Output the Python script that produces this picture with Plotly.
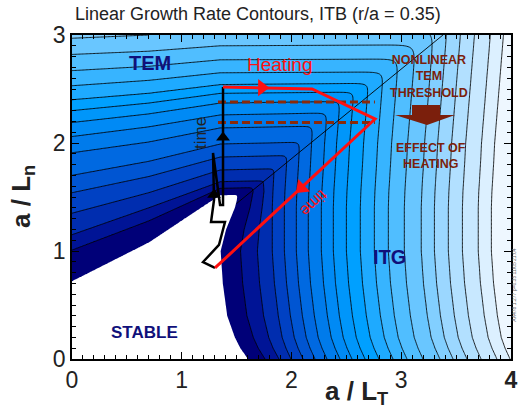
import numpy as np
import plotly.graph_objects as go

# ---------------- data ----------------
# TEM branch: a/Ln position of contour level k (k = 0..14) at several a/LT columns
tem_cols = [0.0, 0.7, 1.35, 3.5]
tem_y_col0 = [0.72, 1.01, 1.15, 1.35, 1.54, 1.70, 1.91, 2.06, 2.19, 2.30, 2.40, 2.53, 2.67, 2.82, 2.97]
tem_y_col1 = [1.08, 1.28, 1.40, 1.54, 1.69, 1.83, 2.01, 2.15, 2.27, 2.37, 2.46, 2.58, 2.71, 2.85, 3.00]
tem_y_col2 = [1.52, 1.58, 1.64, 1.75, 1.87, 1.99, 2.14, 2.26, 2.37, 2.46, 2.54, 2.65, 2.77, 2.90, 3.04]
tem_y_col3 = [1.58, 1.63, 1.69, 1.80, 1.92, 2.04, 2.18, 2.30, 2.40, 2.48, 2.56, 2.66, 2.78, 2.91, 3.05]

# ITG branch: a/LT position of contour level k (k = 0..19) along a/Ln = 0
itg_x_bottom = [1.604, 1.759, 1.886, 1.995, 2.105, 2.214, 2.323, 2.442, 2.551, 2.670,
                2.797, 2.925, 3.052, 3.198, 3.353, 3.472, 3.599, 3.727, 3.872, 3.991]
# leftward shift of ITG contours with a/Ln (stable edge, and the other levels)
shift_y = [0.0, 0.1, 0.2, 0.4, 0.7, 1.0, 1.2, 1.4, 1.55, 1.8, 2.0, 2.5, 3.0]
shift_edge = [0.0, 0.07, 0.12, 0.19, 0.23, 0.25, 0.20, 0.12, 0.08, 0.15, 0.14, 0.10, 0.06]
shift_rest = [0.0, 0.045, 0.08, 0.115, 0.15, 0.17, 0.17, 0.17, 0.165, 0.15, 0.14, 0.10, 0.06]

band_colors = ['#000078', '#001496', '#002DAF', '#0041C3', '#0055D2', '#0069E1', '#007BEB',
               '#008AF5', '#0096FA', '#00A0FF', '#1EAAFF', '#37B4FF', '#50BEFF', '#69C6FF',
               '#82CFFF', '#9BD7FF', '#B2E0FF', '#C8E8FF', '#DCF0FF', '#EEF7FF']

# decorations (data coordinates)
heat_x = [1.376, 2.187, 2.761, 1.303]
heat_y = [2.519, 2.500, 2.222, 0.843]
time_x = [1.303, 1.194, 1.339, 1.394, 1.267, 1.294, 1.285, 1.349, 1.376, 1.376]
time_y = [0.843, 0.898, 1.056, 1.269, 1.269, 1.472, 1.907, 1.426, 1.426, 2.519]
dash_x = [1.33, 2.76]
dash_y_upper = 2.38
dash_y_lower = 2.19
ridge_x = [1.50, 3.38]
ridge_y = [1.44, 3.00]
# arrowheads: position and pointing angle (degrees clockwise from 'up')
red_head_x = [1.73, 2.09]
red_head_y = [2.512, 1.585]
red_head_angle = [90, 227]
black_head_x = [1.376, 1.294]
black_head_y = [2.05, 1.52]

# ---------------- build the growth-rate field ----------------
xg = np.linspace(0, 4, 321)
yg = np.linspace(0, 3, 241)
nk_tem = len(tem_y_col0)
tem_table = np.array([tem_y_col0, tem_y_col1, tem_y_col2, tem_y_col3])
TEM = np.empty((len(yg), len(xg)))
lev_t = np.arange(nk_tem, dtype=float)
for j, xv in enumerate(xg):
    yk = np.array([np.interp(xv, tem_cols, tem_table[:, k]) for k in range(nk_tem)])
    col = np.interp(yg, yk, lev_t)
    lo = yg < yk[0]
    col[lo] = (yg[lo] - yk[0]) / 0.3
    hi = yg > yk[-1]
    col[hi] = nk_tem - 1 + (yg[hi] - yk[-1]) / 0.15
    TEM[:, j] = col

itg_x_bottom = np.array(itg_x_bottom)
nk_itg = len(itg_x_bottom)
lev_i = np.arange(nk_itg, dtype=float)
w = np.minimum(lev_i, 3) / 3.0
ITG = np.empty((len(yg), len(xg)))
for i, yv in enumerate(yg):
    sa = np.interp(yv, shift_y, shift_edge)
    sb = np.interp(yv, shift_y, shift_rest)
    xk = itg_x_bottom - ((1 - w) * sa + w * sb)
    row = np.interp(xg, xk, lev_i)
    lo = xg < xk[0]
    row[lo] = (xg[lo] - xk[0]) / 0.15
    hi = xg > xk[-1]
    row[hi] = nk_itg - 1 + (xg[hi] - xk[-1]) / 0.13
    ITG[i, :] = row

m = np.maximum(TEM, ITG)
t = 0.08 + 0.022 * np.clip(m, 0, None)
G = m + t * np.log1p(np.exp(-np.abs(TEM - ITG) / t))
G = np.clip(G, -0.95, 19.95)

nb = len(band_colors)
colorscale = [[0.0, '#FFFFFF']] + [[(k + 1) / nb, c] for k, c in enumerate(band_colors)]

FONT = 'Liberation Sans, Arial, sans-serif'
NAVY = '#10107A'
BROWN = '#7B1F0C'
RED = '#FF1010'

fig = go.Figure()
fig.add_trace(go.Contour(
    x=xg, y=yg, z=G, autocontour=False,
    contours=dict(coloring='fill', start=0, end=nb - 1, size=1, showlines=False),
    colorscale=colorscale, line=dict(width=0), showscale=False, hoverinfo='skip'))
fig.add_trace(go.Contour(
    x=xg, y=yg, z=G, autocontour=False,
    contours=dict(coloring='none', start=1, end=nb - 1, size=1),
    line=dict(color='black', width=0.85), showscale=False, hoverinfo='skip'))

# ridge line
fig.add_trace(go.Scatter(x=ridge_x, y=ridge_y, mode='lines',
                         line=dict(color='black', width=0.9), hoverinfo='skip'))
# dashed threshold lines
for yy in (dash_y_upper, dash_y_lower):
    fig.add_trace(go.Scatter(x=dash_x, y=[yy, yy], mode='lines',
                             line=dict(color='#8B2A0A', width=3, dash='8px,4px'), hoverinfo='skip'))
# black time path
fig.add_trace(go.Scatter(x=time_x, y=time_y, mode='lines',
                         line=dict(color='black', width=2.5), hoverinfo='skip'))
# red heating path
fig.add_trace(go.Scatter(x=heat_x, y=heat_y, mode='lines',
                         line=dict(color=RED, width=3), hoverinfo='skip'))
# arrowheads
fig.add_trace(go.Scatter(x=red_head_x, y=red_head_y, mode='markers',
                         marker=dict(symbol='triangle-up', size=15, color=RED, angle=red_head_angle,
                                     line=dict(width=0)), hoverinfo='skip'))
fig.add_trace(go.Scatter(x=black_head_x, y=black_head_y, mode='markers',
                         marker=dict(symbol='triangle-up', size=12, color='black',
                                     line=dict(width=0)), hoverinfo='skip'))

# brown block arrow
fig.add_shape(type='path', xref='x', yref='y',
              path='M 3.098,2.352 L 3.353,2.352 L 3.353,2.259 L 3.49,2.259 L 3.235,2.167 L 2.943,2.259 L 3.098,2.259 Z',
              fillcolor=BROWN, line=dict(width=0))

ann = []
def label(x, y, text, size, color, bold=False, angle=0, xref='x', yref='y'):
    ann.append(dict(x=x, y=y, xref=xref, yref=yref, text=('<b>%s</b>' % text) if bold else text,
                    showarrow=False, textangle=angle, xanchor='center', yanchor='middle',
                    font=dict(family=FONT, size=size, color=color)))

label(0.711, 2.741, 'TEM', 20, NAVY, bold=True)
label(1.895, 2.731, 'Heating', 19, RED)
label(3.253, 2.62, 'NONLINEAR<br>TEM<br>THRESHOLD', 12.5, BROWN, bold=True)
label(3.271, 1.88, 'EFFECT OF<br>HEATING', 12.5, BROWN, bold=True)
label(2.897, 0.944, 'ITG', 20, NAVY, bold=True)
label(0.665, 0.241, 'STABLE', 17, NAVY, bold=True)
label(1.175, 2.093, 'time', 17, '#222222', angle=-90)
label(2.20, 1.44, 'time', 16, RED, angle=137)
# texts outside the plotting area (paper coordinates)
label(0.647, -0.102, 'a / L<sub>T</sub>', 26, '#222222', bold=True, xref='paper', yref='paper')
label(-0.114, 0.503, 'a / L<sub>n</sub>', 26, '#222222', bold=True, angle=-90, xref='paper', yref='paper')
label(1.008, 0.228, 'AA478 1.277 ρ=0.35 11/05 21:04', 5, '#666666', angle=-90, xref='paper', yref='paper')
label(0.4237, 1.0648, 'Linear Growth Rate Contours, ITB (r/a = 0.35)',
      18, '#222222', xref='paper', yref='paper')

fig.update_layout(
    width=518, height=411, margin=dict(l=72, r=7, t=35, b=52, autoexpand=False),
    plot_bgcolor='white', paper_bgcolor='white', showlegend=False,
    annotations=ann,
    font=dict(family=FONT, size=23, color='#222222'),
    xaxis=dict(range=[0, 4], tickvals=[0, 1, 2, 3, 4], ticktext=['0', '1', '2', '3', '<b>4</b>'],
               ticks='inside', ticklen=7, tickcolor='black', showline=True, linecolor='black',
               linewidth=1.5, mirror='allticks', showgrid=False, zeroline=False, automargin=False,
               tickfont=dict(size=23),
               minor=dict(dtick=0.1, ticks='inside', ticklen=4, tickcolor='black')),
    yaxis=dict(range=[0, 3], tickvals=[0, 1, 2, 3], ticks='inside', ticklen=7, tickcolor='black',
               showline=True, linecolor='black', linewidth=1.5, mirror='allticks',
               showgrid=False, zeroline=False, automargin=False, tickfont=dict(size=23),
               minor=dict(dtick=0.1, ticks='inside', ticklen=4, tickcolor='black')),
)

fig.write_html('out.html')
